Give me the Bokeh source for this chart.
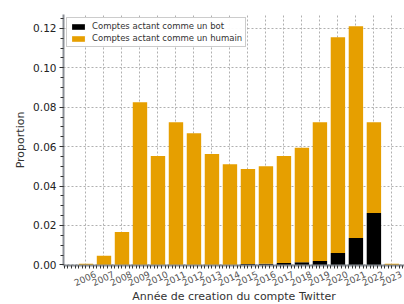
import math
from bokeh.plotting import figure
from bokeh.models import (FixedTicker, Range1d, Legend, LegendItem, ColumnDataSource,
                          SingleIntervalTicker, CustomJSTickFormatter)
from bokeh.embed import file_html
from bokeh.resources import INLINE

years = list(range(2006, 2024))
year_labels = [str(y) for y in years]
bot = [0.0, 0.0, 0.0, 0.0, 0.0, 0.0, 0.0, 0.0, 0.0, 0.0005, 0.0006, 0.001, 0.0014, 0.002, 0.006, 0.0137, 0.0263, 0.0]
total = [0.0006, 0.0046, 0.0167, 0.0825, 0.0552, 0.0724, 0.0668, 0.0562, 0.0511, 0.0486, 0.0501, 0.0552, 0.0594, 0.0724, 0.1154, 0.1210, 0.0724, 0.0006]
humain = [t - b for t, b in zip(total, bot)]

src = ColumnDataSource(dict(x=years, bot=bot, humain=humain))

p = figure(frame_width=341, frame_height=251, output_backend="svg", toolbar_location=None,
           x_range=Range1d(2004.75, 2023.7), y_range=Range1d(-0.0003, 0.127),
           min_border_left=63, min_border_right=0, min_border_top=14, min_border_bottom=0)
p.outline_line_color = None
p.background_fill_color = "white"

r = p.vbar_stack(["bot", "humain"], x="x", width=0.8, source=src,
                 color=["#000000", "#E69F00"], line_color=None)

font = "DejaVu Sans"
# rotated labels in Bokeh end at their tick; shift the label anchors so each label is centred on its year
shift = 0.52
label_pos = [y + shift for y in years]
p.xaxis.ticker = FixedTicker(ticks=label_pos, minor_ticks=[2004.8 + 0.2 * i for i in range(95)])
p.xaxis.major_label_overrides = {pos: lab for pos, lab in zip(label_pos, year_labels)}
p.xaxis.major_label_orientation = math.radians(25)
p.xaxis.major_tick_line_color = None
p.yaxis.ticker = SingleIntervalTicker(interval=0.02, num_minor_ticks=4)
p.yaxis.formatter = CustomJSTickFormatter(code="return tick.toFixed(2);")

for ax in (p.xaxis, p.yaxis):
    ax.axis_line_color = "#8a8f96"
    ax.axis_line_width = 2
    ax.minor_tick_line_color = "#333333"
    ax.major_tick_in = 0
    ax.minor_tick_out = 3
    ax.minor_tick_in = 0
    ax.major_label_text_font = font
    ax.axis_label_text_font = font
    ax.axis_label_text_font_style = "normal"
    ax.axis_label_text_font_size = "11px"
    ax.axis_label_text_color = "#333333"
p.yaxis.major_tick_line_color = "#333333"
p.yaxis.major_tick_out = 4
p.xaxis.major_tick_out = 3

p.yaxis.major_label_text_font_size = "10.5px"
p.yaxis.major_label_text_color = "#222222"
p.yaxis.major_label_standoff = 3
p.xaxis.major_label_text_font_size = "9px"
p.xaxis.major_label_text_color = "#555555"
p.xaxis.major_label_standoff = 5
p.xaxis.axis_label = "Année de creation du compte Twitter"
p.yaxis.axis_label = "Proportion"
p.xaxis.axis_label_standoff = -3
p.yaxis.axis_label_standoff = 3

for g in (p.xgrid, p.ygrid):
    g.grid_line_color = "#b0b0b0"
    g.grid_line_dash = "2 2"
    g.grid_line_width = 1
p.xgrid.ticker = FixedTicker(ticks=years)

legend = Legend(items=[LegendItem(label="Comptes actant comme un bot", renderers=[r[0]]),
                       LegendItem(label="Comptes actant comme un humain", renderers=[r[1]])],
                location="top_left")
legend.label_text_font = font
legend.label_text_font_size = "8.5px"
legend.label_text_color = "#333333"
legend.glyph_width = 16
legend.glyph_height = 7
legend.label_height = 10
legend.spacing = 2
legend.padding = 3
legend.margin = 3
legend.border_line_color = "#999999"
legend.border_line_width = 1
legend.label_standoff = 6
p.add_layout(legend)

open("out.html", "w").write(file_html(p, INLINE))
